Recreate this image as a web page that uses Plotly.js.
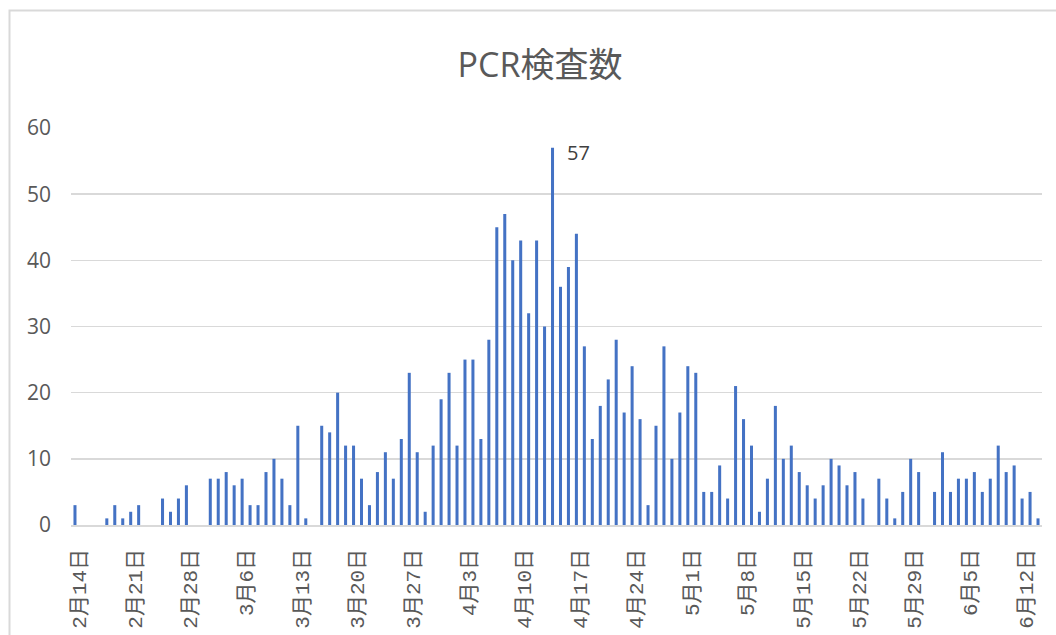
<!DOCTYPE html>
<html><head><meta charset="utf-8">
<script src="https://cdn.plot.ly/plotly-3.0.1.min.js"></script>
<style>html,body{margin:0;padding:0;background:#fff;overflow:hidden}#chart{width:1056px;height:635px}</style>
</head><body><div id="chart"></div>
<script>
const year = 2020;
// daily PCR test counts (null = no bar)
const febStartDay = 14;
const febValues = [3,null,null,null,1,3,1,2,3,null,null,4,2,4,6,null];
const marValues = [null,7,7,8,6,7,3,3,8,10,7,3,15,1,null,15,14,20,12,12,7,3,8,11,7,13,23,11,2,12,19];
const aprValues = [23,12,25,25,13,28,45,47,40,43,32,43,30,57,36,39,44,27,13,18,22,28,17,24,16,3,15,27,10,17];
const mayValues = [24,23,5,5,9,4,21,16,12,2,7,18,10,12,8,6,4,6,10,9,6,8,4,null,7,4,1,5,10,8,null];
const junValues = [5,11,5,7,7,8,5,7,12,8,9,4,5,1];

const tickDates = ["2020-02-14","2020-02-21","2020-02-28","2020-03-06","2020-03-13","2020-03-20","2020-03-27","2020-04-03","2020-04-10","2020-04-17","2020-04-24","2020-05-01","2020-05-08","2020-05-15","2020-05-22","2020-05-29","2020-06-05","2020-06-12"];
const tickLabels = ["2月14日","2月21日","2月28日","3月6日","3月13日","3月20日","3月27日","4月3日","4月10日","4月17日","4月24日","5月1日","5月8日","5月15日","5月22日","5月29日","6月5日","6月12日"];
const peakDate = "2020-04-14";
const peakValue = 57;
const chartTitle = "PCR検査数";

function pad(n){return n<10?'0'+n:''+n;}
const dates = [], values = [];
function addMonth(m, startDay, arr){
  arr.forEach(function(v,i){ dates.push(year+'-'+pad(m)+'-'+pad(startDay+i)); values.push(v); });
}
addMonth(2, febStartDay, febValues);
addMonth(3, 1, marValues);
addMonth(4, 1, aprValues);
addMonth(5, 1, mayValues);
addMonth(6, 1, junValues);

const FONT = "'Segoe UI','Open Sans','Noto Sans CJK JP',sans-serif";
const XFONT = "'Liberation Mono','Noto Sans CJK JP',monospace";
const L = 71, R = 1042, T = 128, B = 525;
const W = R - L, H = B - T;

const trace = {
  type: 'bar', x: dates, y: values,
  marker: {color: '#4472C4', line: {width: 0}},
  hoverinfo: 'x+y'
};

const layout = {
  width: 1056, height: 635,
  margin: {l: L, r: 1056 - R, t: T, b: 635 - B, pad: 0},
  paper_bgcolor: '#ffffff', plot_bgcolor: '#ffffff',
  font: {family: FONT, color: '#595959'},
  showlegend: false,
  bargap: 0.62,
  title: {text: chartTitle, font: {size: 34, color: '#595959', family: FONT},
          x: 540/1056, xref: 'container', xanchor: 'center',
          y: 1 - 65/635, yref: 'container', yanchor: 'middle'},
  xaxis: {
    type: 'date',
    range: ['2020-02-13 12:00', '2020-06-14 12:00'],
    tickmode: 'array', tickvals: tickDates, ticktext: tickLabels,
    tickangle: -90, ticks: '', showgrid: false,
    showline: true, linecolor: '#d9d9d9', linewidth: 1.5,
    tickfont: {size: 21, color: '#595959', family: XFONT},
    ticklabelstandoff: 14, ticklabelshift: 4, fixedrange: true
  },
  yaxis: {
    range: [0, 60], tick0: 0, dtick: 10, ticks: '',
    gridcolor: '#d9d9d9', gridwidth: 1.5, zeroline: false, showline: false,
    tickfont: {size: 21, color: '#595959', family: FONT},
    ticklabelstandoff: 19, fixedrange: true
  },
  annotations: [{
    x: peakDate, y: peakValue, xref: 'x', yref: 'y',
    text: String(peakValue), showarrow: false,
    xanchor: 'left', yanchor: 'middle', xshift: 12, yshift: -5,
    font: {size: 20, color: '#404040', family: FONT}
  }],
  shapes: [{
    type: 'rect', xref: 'paper', yref: 'paper', layer: 'below',
    x0: (9.5 - L)/W, x1: (1075 - L)/W,
    y0: (B - 660)/H, y1: (B - 10.5)/H,
    line: {color: '#d9d9d9', width: 2}, fillcolor: 'rgba(0,0,0,0)'
  }]
};

Plotly.newPlot('chart', [trace], layout, {displayModeBar: false, staticPlot: true});
</script>
</body></html>
